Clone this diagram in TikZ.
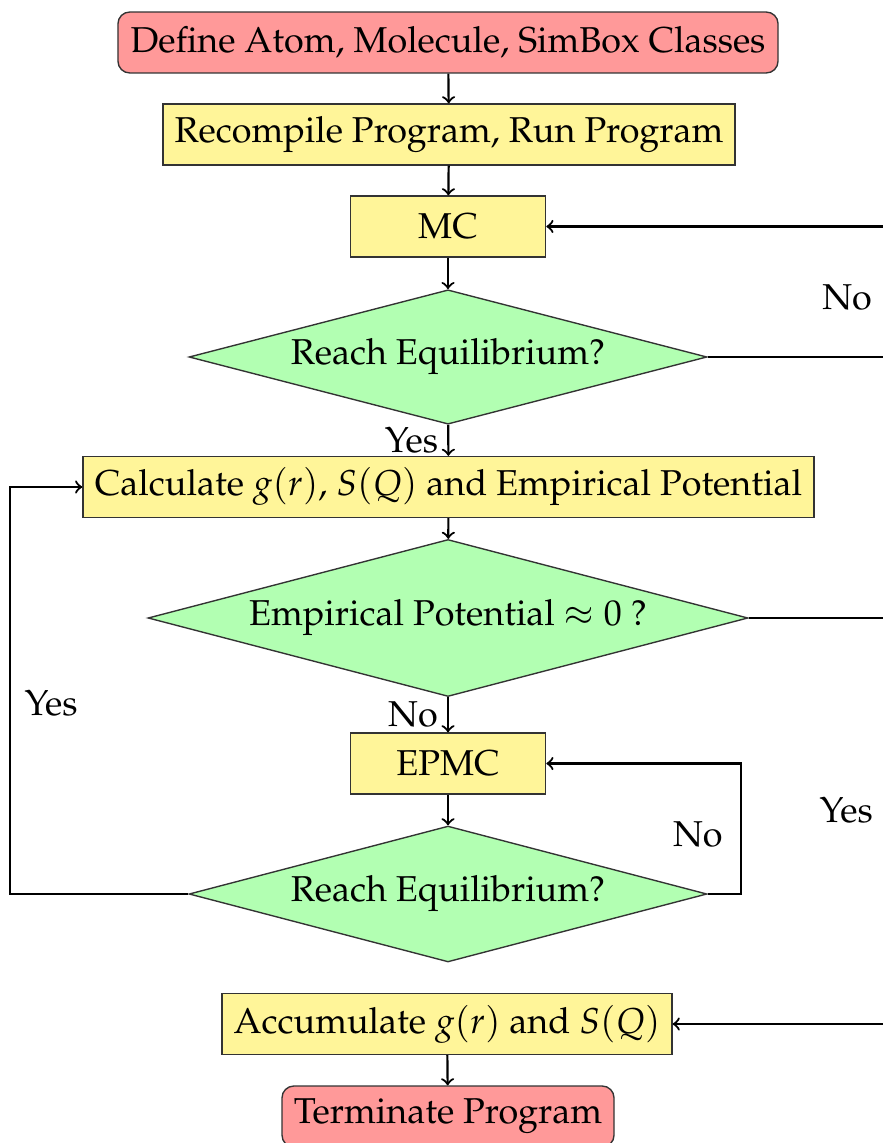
\documentclass[tikz,border=0pt]{standalone}
\usepackage[T1]{fontenc}
\usepackage{mathpazo}
\usetikzlibrary{shapes.geometric}
\definecolor{startred}{RGB}{255,153,153}
\definecolor{procyellow}{RGB}{255,245,153}
\definecolor{testgreen}{RGB}{178,255,178}

\begin{document}
\begin{tikzpicture}[x=0.0128cm,y=-0.0128cm,
    every node/.style={font=\fontsize{13.1}{15}\selectfont},
    terminal/.style={shape=rectangle,rounded corners=0.15cm,draw=black!80,line width=0.5pt,fill=startred,minimum height=0.78cm},
    process/.style={shape=rectangle,draw=black!80,line width=0.5pt,fill=procyellow,minimum height=0.78cm},
    decision/.style={shape=diamond,draw=black!80,line width=0.5pt,fill=testgreen,shape aspect=4,inner sep=0pt},
    flow/.style={->,thick}]
    \useasboundingbox (0,0) rectangle (883,1143);
    \clip (0,0) rectangle (883,1143);

    \node[terminal,minimum width=8.45cm] (define) at (448,42.5) {Define Atom, Molecule, SimBox Classes};
    \node[process,minimum width=7.32cm] (recompile) at (449,134.5) {Recompile Program, Run Program};
    \node[process,minimum width=2.5cm] (mc) at (448,226.5) {MC};
    \node[decision,minimum width=6.63cm,minimum height=1.72cm] (equil) at (448,357) {Reach Equilibrium?};
    \node[process,minimum width=9.36cm] (calc) at (448.5,487) {Calculate $g(r)$, $S(Q)$ and Empirical Potential};
    \node[decision,minimum width=7.68cm,minimum height=2.01cm] (potential) at (448,618) {Empirical Potential $\approx 0$ ?};
    \node[process,minimum width=2.5cm] (epmc) at (448,763.5) {EPMC};
    \node[decision,minimum width=6.63cm,minimum height=1.74cm] (equiltwo) at (448,894) {Reach Equilibrium?};
    \node[process,minimum width=5.76cm] (accum) at (447,1024) {Accumulate $g(r)$ and $S(Q)$};
    \node[terminal,minimum width=4.25cm] (stop) at (448,1116.5) {Terminate Program};

    % main line
    \draw[flow] (define) -- (recompile);
    \draw[flow] (recompile) -- (mc);
    \draw[flow] (mc) -- (equil);
    \draw[flow] (equil) -- node[left] {Yes} (calc);
    \draw[flow] (calc) -- (potential);
    \draw[flow] (potential) -- node[left] {No} (epmc);
    \draw[flow] (epmc) -- (equiltwo);
    \draw[flow] (accum) -- (stop);

    % loops
    \draw[flow] (equil.east) -- ++(190,0) |- node[pos=0.227,left=2mm] {No} (mc.east);
    \draw[flow] (potential.east) -- ++(150,0) |- node[pos=0.237,left=2mm] {Yes} (accum.east);
    \draw[flow] (equiltwo.west) -- ++(-178,0) |- node[pos=0.234,right=0.5mm] {Yes} (calc.west);
    \draw[flow] (equiltwo.east) -- ++(33,0) |- node[pos=0.23,left=1mm] {No} (epmc.east);
\end{tikzpicture}
\end{document}
